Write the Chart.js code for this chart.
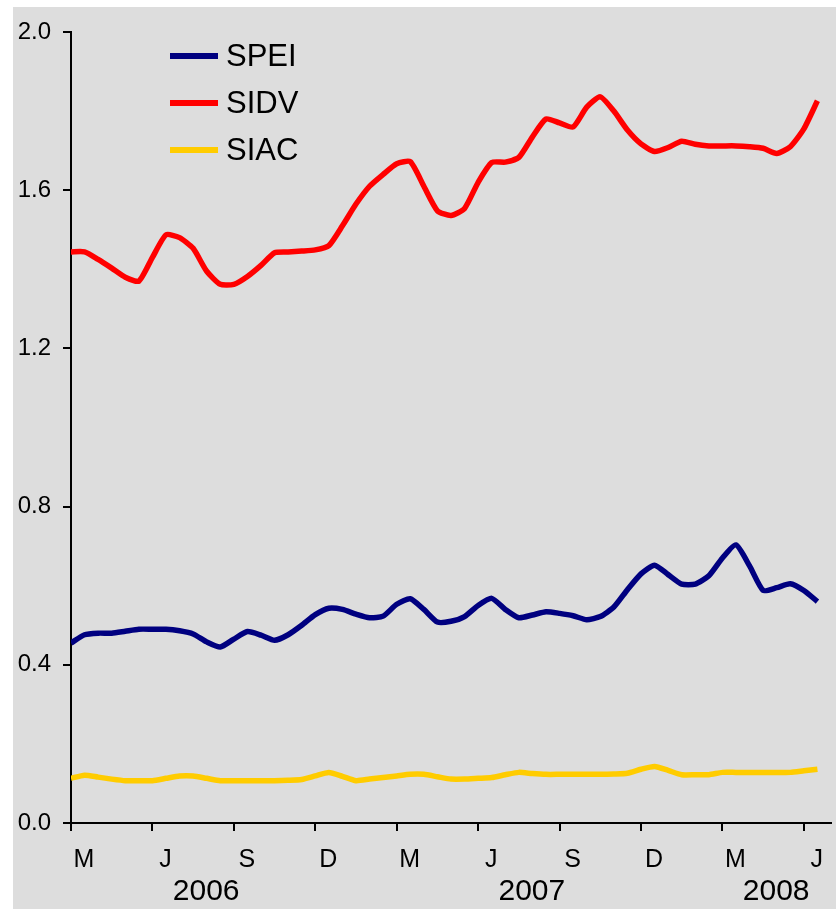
<!DOCTYPE html>
<html>
<head>
<meta charset="utf-8">
<script src="https://cdn.jsdelivr.net/npm/chart.js@4"></script>
<style>
  html, body { margin: 0; padding: 0; background: #ffffff; }
  #wrap { width: 836px; height: 910px; }
</style>
</head>
<body>
<div id="wrap"><canvas id="myChart" width="836" height="910"></canvas></div>
<script>
// series (half-month readings, Mar 2006 -> Jul 2008)
const spei = [0.455, 0.476, 0.48, 0.48, 0.485, 0.49, 0.49, 0.49, 0.486, 0.478,
  0.458, 0.445, 0.465, 0.484, 0.475, 0.462, 0.476, 0.5, 0.527, 0.543,
  0.54, 0.528, 0.519, 0.523, 0.553, 0.567, 0.54, 0.508, 0.51, 0.522,
  0.55, 0.568, 0.54, 0.519, 0.526, 0.534, 0.53, 0.524, 0.514, 0.522,
  0.546, 0.59, 0.63, 0.652, 0.628, 0.604, 0.604, 0.625, 0.67, 0.703,
  0.65, 0.588, 0.595, 0.605, 0.588, 0.56];

const sidv = [1.444, 1.444, 1.425, 1.403, 1.38, 1.37, 1.43, 1.487, 1.48, 1.453,
  1.395, 1.362, 1.362, 1.382, 1.41, 1.442, 1.444, 1.446, 1.449, 1.46,
  1.51, 1.565, 1.61, 1.64, 1.667, 1.672, 1.61, 1.548, 1.536, 1.554,
  1.62, 1.67, 1.671, 1.683, 1.735, 1.78, 1.77, 1.76, 1.81, 1.836,
  1.80, 1.752, 1.717, 1.698, 1.708, 1.724, 1.716, 1.712, 1.712, 1.712,
  1.71, 1.706, 1.693, 1.71, 1.755, 1.826];

const siac = [0.113, 0.121, 0.116, 0.111, 0.107, 0.107, 0.107, 0.113, 0.119, 0.119,
  0.113, 0.107, 0.107, 0.107, 0.107, 0.107, 0.108, 0.110, 0.119, 0.128,
  0.118, 0.107, 0.111, 0.115, 0.119, 0.123, 0.123, 0.117, 0.111, 0.111,
  0.113, 0.115, 0.122, 0.128, 0.125, 0.123, 0.123, 0.123, 0.123, 0.123,
  0.124, 0.126, 0.136, 0.143, 0.133, 0.122, 0.122, 0.122, 0.128, 0.128,
  0.128, 0.128, 0.128, 0.128, 0.132, 0.136];

// tick labels
const quarterLabels = ['M', 'J', 'S', 'D', 'M', 'J', 'S', 'D', 'M', 'J'];
const yearLabels = ['2006', '2007', '2008'];
const quartersPerYear = [4, 4, 2];

// x is months since the start (one reading every half month)
const toPoints = arr => arr.map((v, i) => ({ x: i / 2, y: v }));

// year ticks sit in the middle of their quarter labels
let q = 0;
const yearTicks = quartersPerYear.map(n => {
  const mid = (q + (q + n - 1)) / 2 * 3;
  q += n;
  return mid;
});

const FONT = '"Liberation Sans", Arial, sans-serif';

// fondo gris
const bgPlugin = {
  id: 'bg',
  beforeDraw(chart) {
    const ctx = chart.ctx;
    ctx.save();
    ctx.fillStyle = '#dddddd';
    ctx.fillRect(13, 7, 823, 902);
    ctx.restore();
  }
};

// leyenda dentro del grafico
const legendPlugin = {
  id: 'innerLegend',
  afterDraw(chart) {
    const ctx = chart.ctx;
    ctx.save();
    ctx.font = '31px ' + FONT;
    ctx.textBaseline = 'middle';
    ctx.textAlign = 'left';
    chart.data.datasets.forEach((ds, i) => {
      const y = 56 + i * 47;
      ctx.strokeStyle = ds.borderColor;
      ctx.lineWidth = 6;
      ctx.beginPath();
      ctx.moveTo(170, y);
      ctx.lineTo(218, y);
      ctx.stroke();
      ctx.fillStyle = '#000';
      ctx.fillText(ds.label, 226, y + 1);
    });
    ctx.restore();
  }
};

const ctx = document.getElementById('myChart').getContext('2d');
const chart = new Chart(ctx, {
  type: 'line',
  data: {
    datasets: [
      { label: 'SPEI', data: toPoints(spei), borderColor: '#000080' },
      { label: 'SIDV', data: toPoints(sidv), borderColor: '#ff0000' },
      { label: 'SIAC', data: toPoints(siac), borderColor: '#ffcc00' }
    ]
  },
  options: {
    responsive: false,
    animation: false,
    layout: { padding: { left: 13, top: 32, right: 5, bottom: 0 } },
    elements: {
      line: { borderWidth: 5.5, tension: 0.2, borderJoinStyle: 'round', fill: false },
      point: { radius: 0 }
    },
    plugins: {
      legend: { display: false },
      tooltip: { enabled: false }
    },
    scales: {
      x: {
        type: 'linear',
        position: 'bottom',
        weight: 0,
        min: 0,
        max: 28,
        afterBuildTicks: axis => {
          axis.ticks = quarterLabels.map((l, i) => ({ value: i * 3 }));
        },
        afterFit: axis => { axis.height = 50; },
        grid: {
          display: true,
          drawOnChartArea: false,
          drawTicks: true,
          tickLength: 8,
          lineWidth: 2,
          color: '#000'
        },
        border: { display: true, color: '#000', width: 2 },
        ticks: {
          autoSkip: false,
          maxRotation: 0,
          labelOffset: 13,
          padding: 14,
          color: '#000',
          font: { family: FONT, size: 25 },
          callback: (v, i) => quarterLabels[i]
        }
      },
      xYear: {
        type: 'linear',
        position: 'bottom',
        weight: 1,
        min: 0,
        max: 28,
        afterBuildTicks: axis => {
          axis.ticks = yearTicks.map(v => ({ value: v }));
        },
        afterFit: axis => { axis.height = 37; },
        grid: { display: false, drawTicks: false },
        border: { display: false },
        ticks: {
          autoSkip: false,
          maxRotation: 0,
          labelOffset: 13,
          padding: 1,
          color: '#000',
          font: { family: FONT, size: 30 },
          callback: (v, i) => yearLabels[i]
        }
      },
      y: {
        min: 0,
        max: 2,
        afterFit: axis => { axis.width = 58; },
        grid: {
          display: true,
          drawOnChartArea: false,
          drawTicks: true,
          tickLength: 8,
          lineWidth: 2,
          color: '#000'
        },
        border: { display: true, color: '#000', width: 2 },
        ticks: {
          stepSize: 0.4,
          padding: 12,
          color: '#000',
          font: { family: FONT, size: 24 },
          callback: v => v.toFixed(1)
        }
      }
    }
  },
  plugins: [bgPlugin, legendPlugin]
});
</script>
</body>
</html>
